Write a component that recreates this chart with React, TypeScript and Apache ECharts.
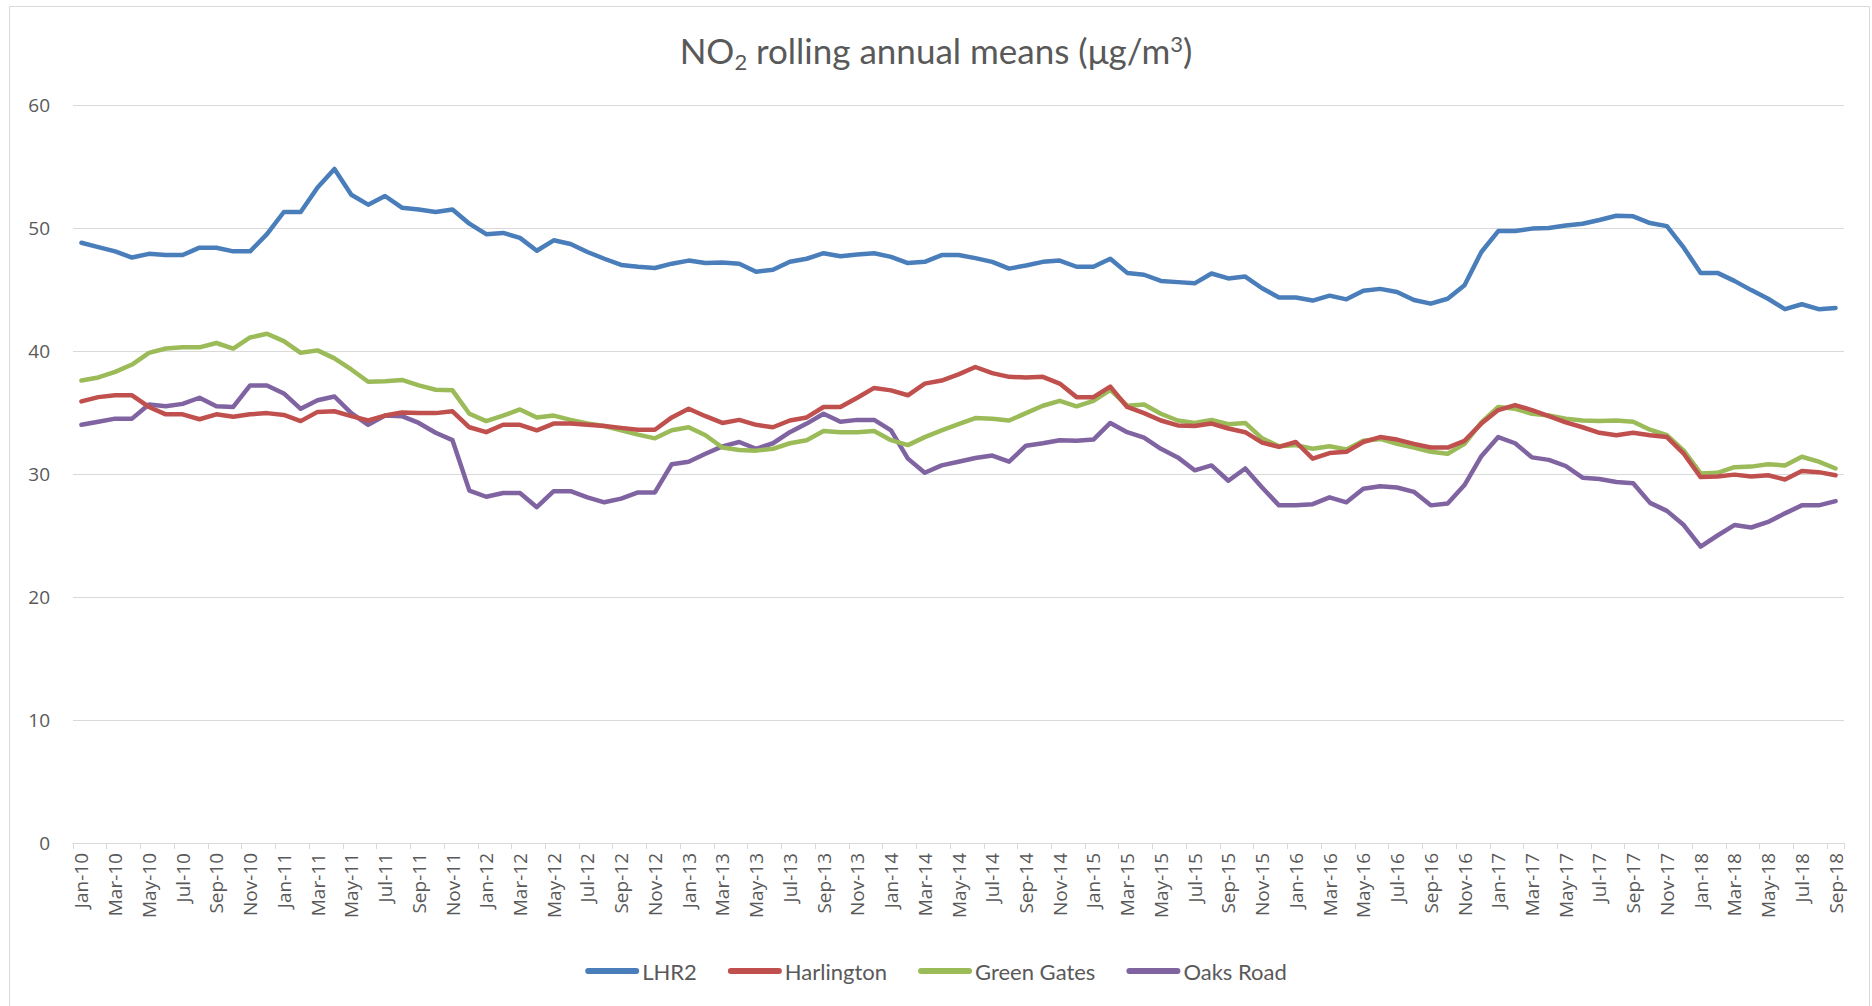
import React, { useEffect, useRef } from "react";
import * as echarts from "echarts";

const MONTHS = ["Jan", "Feb", "Mar", "Apr", "May", "Jun", "Jul", "Aug", "Sep", "Oct", "Nov", "Dec"];
const YEARS = ["10", "11", "12", "13", "14", "15", "16", "17", "18"];
const LAST_MONTH_2018 = 9;

const SERIES_NAMES = ["LHR2", "Harlington", "Green Gates", "Oaks Road"];
const SERIES_COLORS = ["#4a7ebb", "#c0504d", "#9bbb59", "#8064a2"];

const LHR2 = [
  48.8, 48.45, 48.1, 47.6, 47.9, 47.8, 47.8, 48.4, 48.4, 48.1,
  48.1, 49.5, 51.3, 51.3, 53.3, 54.8, 52.7, 51.9, 52.6, 51.65,
  51.5, 51.3, 51.5, 50.35, 49.5, 49.6, 49.2, 48.15, 49.0, 48.7,
  48.05, 47.5, 47.0, 46.85, 46.75, 47.1, 47.35, 47.15, 47.2, 47.1,
  46.45, 46.6, 47.25, 47.5, 47.95, 47.7, 47.85, 47.95, 47.65, 47.15,
  47.25, 47.8, 47.8, 47.55, 47.25, 46.7, 46.95, 47.25, 47.35, 46.85,
  46.85, 47.5, 46.35, 46.2, 45.7, 45.6, 45.5, 46.3, 45.9, 46.05,
  45.1, 44.35, 44.35, 44.1, 44.5, 44.2, 44.9, 45.05, 44.8, 44.15,
  43.85, 44.25, 45.35, 48.05, 49.75, 49.75, 49.95, 50.0, 50.2, 50.35,
  50.65, 51.0, 50.95, 50.4, 50.15, 48.4, 46.35, 46.35, 45.7, 44.95,
  44.25, 43.4, 43.8, 43.4, 43.5,
];

const HARLINGTON = [
  35.9, 36.25, 36.4, 36.4, 35.45, 34.85, 34.85, 34.45, 34.85, 34.65,
  34.85, 34.95, 34.8, 34.3, 35.05, 35.1, 34.7, 34.35, 34.75, 35.0,
  34.95, 34.95, 35.1, 33.8, 33.4, 34.0, 34.0, 33.55, 34.1, 34.1,
  34.0, 33.9, 33.75, 33.6, 33.6, 34.6, 35.3, 34.7, 34.15, 34.4,
  34.0, 33.8, 34.35, 34.6, 35.45, 35.45, 36.2, 37.0, 36.8, 36.4,
  37.35, 37.6, 38.1, 38.7, 38.2, 37.9, 37.85, 37.9, 37.35, 36.25,
  36.25, 37.1, 35.45, 34.95, 34.35, 33.95, 33.9, 34.1, 33.7, 33.4,
  32.55, 32.2, 32.6, 31.25, 31.7, 31.8, 32.6, 33.0, 32.8, 32.45,
  32.15, 32.15, 32.7, 34.1, 35.2, 35.6, 35.2, 34.7, 34.2, 33.8,
  33.35, 33.15, 33.35, 33.15, 33.0, 31.65, 29.75, 29.8, 29.95, 29.8,
  29.9, 29.55, 30.25, 30.15, 29.9,
];

const GREEN_GATES = [
  37.6, 37.85, 38.3, 38.9, 39.85, 40.2, 40.3, 40.3, 40.65, 40.2,
  41.1, 41.4, 40.8, 39.85, 40.05, 39.4, 38.5, 37.5, 37.55, 37.65,
  37.2, 36.85, 36.8, 34.9, 34.3, 34.75, 35.25, 34.6, 34.75, 34.4,
  34.1, 33.9, 33.55, 33.2, 32.9, 33.55, 33.8, 33.15, 32.15, 31.95,
  31.9, 32.05, 32.5, 32.75, 33.5, 33.4, 33.4, 33.5, 32.75, 32.35,
  33.0, 33.55, 34.05, 34.55, 34.5, 34.35, 34.95, 35.55, 35.95, 35.5,
  35.95, 36.85, 35.55, 35.65, 34.9, 34.35, 34.15, 34.4, 34.05, 34.15,
  32.9, 32.25, 32.35, 32.05, 32.25, 32.0, 32.7, 32.85, 32.45, 32.15,
  31.8, 31.65, 32.45, 34.2, 35.45, 35.3, 34.9, 34.75, 34.5, 34.35,
  34.3, 34.35, 34.25, 33.6, 33.15, 31.9, 30.05, 30.1, 30.55, 30.6,
  30.8, 30.7, 31.4, 31.0, 30.45,
];

const OAKS_ROAD = [
  34.0, 34.25, 34.5, 34.5, 35.65, 35.5, 35.7, 36.2, 35.5, 35.45,
  37.2, 37.2, 36.55, 35.3, 36.0, 36.3, 34.95, 34.0, 34.75, 34.7,
  34.15, 33.35, 32.75, 28.65, 28.15, 28.45, 28.45, 27.3, 28.6, 28.6,
  28.1, 27.7, 28.0, 28.5, 28.5, 30.8, 31.0, 31.65, 32.25, 32.6,
  32.05, 32.5, 33.4, 34.1, 34.9, 34.25, 34.4, 34.4, 33.55, 31.25,
  30.1, 30.7, 31.0, 31.3, 31.5, 31.0, 32.3, 32.5, 32.75, 32.7,
  32.8, 34.15, 33.4, 32.95, 32.05, 31.35, 30.3, 30.7, 29.45, 30.45,
  28.9, 27.45, 27.45, 27.55, 28.1, 27.7, 28.8, 29.0, 28.9, 28.55,
  27.45, 27.6, 29.1, 31.45, 33.0, 32.5, 31.35, 31.15, 30.65, 29.7,
  29.6, 29.35, 29.25, 27.65, 27.0, 25.85, 24.1, 25.0, 25.85, 25.65,
  26.1, 26.8, 27.45, 27.45, 27.8,
];

const SERIES_VALUES = [LHR2, HARLINGTON, GREEN_GATES, OAKS_ROAD];

const Y_MIN = 0;
const Y_MAX = 60;
const Y_INTERVAL = 10;

function buildCategories(): string[] {
  const out: string[] = [];
  YEARS.forEach((y, yi) => {
    const count = yi === YEARS.length - 1 ? LAST_MONTH_2018 : 12;
    for (let m = 0; m < count; m++) out.push(`${MONTHS[m]}-${y}`);
  });
  return out;
}

const CATEGORIES = buildCategories();

const LABEL_COLOR = "#595959";
const GRID_COLOR = "#d9d9d9";
const AXIS_FONT = "'Open Sans', 'Noto Sans', sans-serif";
const TITLE_FONT = "Lato, 'Noto Sans', sans-serif";

export default function App() {
  const ref = useRef<HTMLDivElement>(null);

  useEffect(() => {
    if (!ref.current) return;
    const chart = echarts.init(ref.current, null, { renderer: "svg" });
    const capsule = "path://M3,0 L51,0 A3,3 0 0 1 51,6 L3,6 A3,3 0 0 1 3,0 Z";
    chart.setOption({
      animation: false,
      backgroundColor: "#ffffff",
      title: {
        text: "{a|NO}{b|2}{a| rolling annual means (μg/m}{c|3}{a|)}",
        left: "center",
        top: 24,
        textStyle: {
          fontWeight: "normal",
          rich: {
            a: { fontFamily: TITLE_FONT, fontSize: 35, fontWeight: "normal", color: LABEL_COLOR, lineHeight: 42 },
            b: { fontFamily: TITLE_FONT, fontSize: 22, fontWeight: "normal", color: LABEL_COLOR, lineHeight: 42, padding: [22, 0, 0, 0] },
            c: { fontFamily: TITLE_FONT, fontSize: 22, fontWeight: "normal", color: LABEL_COLOR, lineHeight: 42, padding: [0, 0, 13, 0] },
          },
        },
      },
      graphic: [
        {
          type: "rect",
          silent: true,
          shape: { x: 9.5, y: 6.5, width: 1860, height: 1010 },
          style: { fill: "none", stroke: GRID_COLOR, lineWidth: 1 },
        },
      ],
      legend: {
        bottom: 19,
        left: "center",
        itemWidth: 54,
        itemHeight: 6,
        itemGap: 31,
        icon: capsule,
        data: SERIES_NAMES.map((n) => ({ name: n, icon: capsule })),
        textStyle: { fontFamily: TITLE_FONT, fontSize: 22, color: LABEL_COLOR, padding: [0, 0, 0, -2] },
      },
      grid: { left: 73, right: 28, top: 105, bottom: 163, containLabel: false },
      xAxis: {
        type: "category",
        data: CATEGORIES,
        boundaryGap: true,
        axisLine: { show: true, lineStyle: { color: GRID_COLOR, width: 1 } },
        axisTick: { show: true, interval: 1, length: 6, lineStyle: { color: GRID_COLOR } },
        axisLabel: {
          interval: 1,
          rotate: 90,
          margin: 10,
          fontFamily: AXIS_FONT,
          fontSize: 19,
          color: LABEL_COLOR,
        },
        splitLine: { show: false },
      },
      yAxis: {
        type: "value",
        min: Y_MIN,
        max: Y_MAX,
        interval: Y_INTERVAL,
        axisLine: { show: false },
        axisTick: { show: false },
        axisLabel: { margin: 23, fontFamily: AXIS_FONT, fontSize: 19, color: LABEL_COLOR },
        splitLine: { show: true, lineStyle: { color: GRID_COLOR, width: 1 } },
      },
      series: SERIES_NAMES.map((name, i) => ({
        name,
        type: "line",
        data: SERIES_VALUES[i],
        symbol: "none",
        showSymbol: false,
        smooth: false,
        color: SERIES_COLORS[i],
        lineStyle: { color: SERIES_COLORS[i], width: 4.5, join: "round", cap: "round" },
        z: 10 - i,
      })),
    });
    return () => chart.dispose();
  }, []);

  return (
    <div
      ref={ref}
      style={{ position: "fixed", left: 0, top: 0, width: 1872, height: 1006, background: "#fff" }}
    />
  );
}
